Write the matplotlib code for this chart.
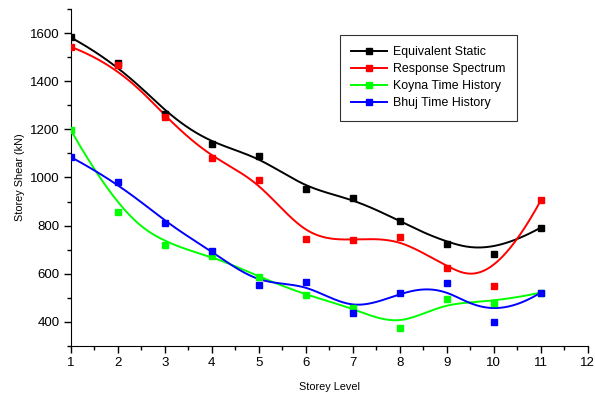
import numpy as np
import matplotlib ; matplotlib.use('Agg')
from matplotlib import pyplot as plt
from matplotlib.ticker import MultipleLocator

# Data
storey = [1, 2, 3, 4, 5, 6, 7, 8, 9, 10, 11]
equiv_static = [1582, 1475, 1265, 1140, 1088, 953, 913, 819, 723, 684, 792]
resp_spectrum = [1543, 1468, 1250, 1080, 990, 744, 740, 752, 622, 548, 905]
koyna_th = [1197, 855, 720, 675, 588, 511, 458, 373, 495, 479, 522]
bhuj_th = [1085, 980, 812, 695, 552, 565, 437, 522, 561, 401, 522]

labels = ['Equivalent Static', 'Response Spectrum', 'Koyna Time History', 'Bhuj Time History']
colors = ['#000000', '#ff0000', '#00ff00', '#0000ff']


def bspline(px, py, npts=400, k=3):
    ''' Clamped uniform B-spline using the data points as control points
        (same as the "B-Spline" line connection in Origin) '''
    P = np.column_stack((px, py)).astype(float)
    n = len(P)
    inner = np.arange(1, n - k)
    t = np.concatenate((np.zeros(k + 1), inner, np.full(k + 1, n - k)))
    u = np.linspace(0, n - k, npts)
    u[-1] -= 1e-9
    # Cox-de Boor recursion
    B = np.array([(u >= t[i]) & (u < t[i + 1]) for i in range(len(t) - 1)], dtype=float)
    for d in range(1, k + 1):
        Bn = np.zeros((len(t) - 1 - d, npts))
        for i in range(len(t) - 1 - d):
            a = t[i + d] - t[i]
            b = t[i + d + 1] - t[i + 1]
            if a > 0:
                Bn[i] += (u - t[i]) / a * B[i]
            if b > 0:
                Bn[i] += (t[i + d + 1] - u) / b * B[i + 1]
        B = Bn
    C = B.T @ P
    return C[:, 0], C[:, 1]


plt.rcParams['font.family'] = ['Liberation Sans', 'DejaVu Sans']
fig = plt.figure(figsize=(5.95, 3.94), dpi=100)
ax = fig.add_axes([0.119, 0.122, 0.869, 0.855])

for ys, lab, c in zip([equiv_static, resp_spectrum, koyna_th, bhuj_th], labels, colors):
    cx, cy = bspline(storey, ys)
    ax.plot(cx, cy, color=c, lw=1.4, zorder=2)
    ax.plot(storey, ys, ls='none', marker='s', ms=4.8, color=c, zorder=3)
    # legend proxy
    ax.plot([], [], color=c, lw=1.4, marker='s', ms=4.8, label=lab)

ax.set_xlim(1, 12)
ax.set_ylim(300, 1700)
ax.xaxis.set_major_locator(MultipleLocator(1))
ax.xaxis.set_minor_locator(MultipleLocator(0.5))
ax.yaxis.set_major_locator(MultipleLocator(200))
ax.yaxis.set_minor_locator(MultipleLocator(100))
ax.set_yticks(np.arange(400, 1700, 200))
ax.spines['top'].set_visible(False)
ax.spines['right'].set_visible(False)
ax.tick_params(which='major', length=5, width=1, labelsize=9.5, pad=3)
ax.tick_params(which='minor', length=3, width=1)
ax.set_xlabel('Storey Level', fontsize=7.8, labelpad=9)
ax.set_ylabel('Storey Shear (kN)', fontsize=7.8, labelpad=4)

leg = ax.legend(loc='upper left', bbox_to_anchor=(0.52, 0.924), fontsize=8.9,
                frameon=True, fancybox=False, edgecolor='black', handlelength=2.9,
                handletextpad=0.45, borderpad=0.95, labelspacing=0.4, borderaxespad=0)
leg.get_frame().set_linewidth(0.8)

plt.savefig('out.png', dpi=100)
